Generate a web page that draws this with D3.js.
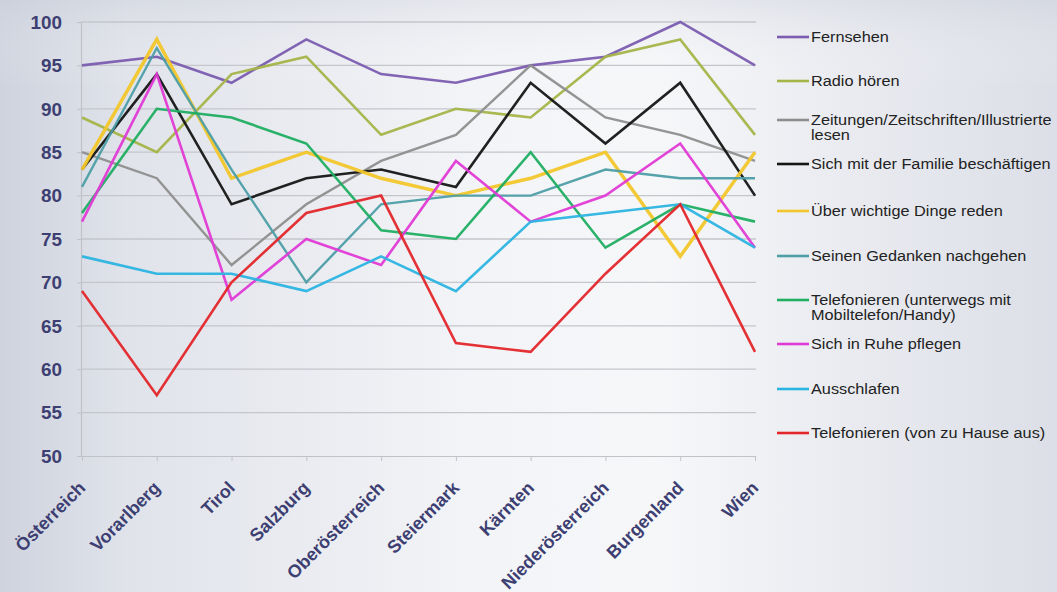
<!DOCTYPE html>
<html>
<head>
<meta charset="utf-8">
<script src="https://cdn.jsdelivr.net/npm/d3@7"></script>
<style>
html,body{margin:0;padding:0;overflow:hidden;}
svg{display:block;}
</style>
</head>
<body>
<svg id="chart" width="1057" height="592"></svg>
<script>
const categories = ["Österreich","Vorarlberg","Tirol","Salzburg","Oberösterreich","Steiermark","Kärnten","Niederösterreich","Burgenland","Wien"];
const seriesNames = ["Fernsehen","Radio hören","Zeitungen/Zeitschriften/Illustrierte|lesen","Sich mit der Familie beschäftigen","Über wichtige Dinge reden","Seinen Gedanken nachgehen","Telefonieren (unterwegs mit|Mobiltelefon/Handy)","Sich in Ruhe pflegen","Ausschlafen","Telefonieren (von zu Hause aus)"];
const fernsehen   = [95,96,93,98,94,93,95,96,100,95];
const radio       = [89,85,94,96,87,90,89,96,98,87];
const zeitungen   = [85,82,72,79,84,87,95,89,87,84];
const familie     = [83,94,79,82,83,81,93,86,93,80];
const wichtige    = [83,98,82,85,82,80,82,85,73,85];
const gedanken    = [81,97,83,70,79,80,80,83,82,82];
const unterwegs   = [78,90,89,86,76,75,85,74,79,77];
const ruhe        = [77,94,68,75,72,84,77,80,86,74];
const ausschlafen = [73,71,71,69,73,69,77,78,79,74];
const zuhause     = [69,57,70,78,80,63,62,71,79,62];
const seriesValues = [fernsehen,radio,zeitungen,familie,wichtige,gedanken,unterwegs,ruhe,ausschlafen,zuhause];
const colors = ["#7b5cb0","#a4b447","#8e8e8e","#151515","#f2c62a","#4d9ea6","#1fae62","#e03ad6","#2bb4e2","#e3262a"];
const widths = [2.6,2.6,2.4,2.6,3.4,2.4,2.6,2.6,2.6,2.6];
const yTicks = [50,55,60,65,70,75,80,85,90,95,100];
const legendY = [37,81,120,164,211,256,300,344,389,433];

const svg = d3.select("#chart");
const W = 1057, H = 592;
const defs = svg.append("defs");
const g1 = defs.append("linearGradient").attr("id","bg").attr("x1","0").attr("x2","1").attr("y1","0").attr("y2","0");
g1.append("stop").attr("offset","0").attr("stop-color","#cfd3de");
g1.append("stop").attr("offset","0.12").attr("stop-color","#e0e3ea");
g1.append("stop").attr("offset","0.45").attr("stop-color","#f3f4f7");
g1.append("stop").attr("offset","0.62").attr("stop-color","#f6f7f9");
g1.append("stop").attr("offset","0.85").attr("stop-color","#e6e8ee");
g1.append("stop").attr("offset","1").attr("stop-color","#dcdfe7");
svg.append("rect").attr("width",W).attr("height",H).attr("fill","url(#bg)");
const g2 = defs.append("linearGradient").attr("id","bgv").attr("x1","0").attr("x2","0").attr("y1","0").attr("y2","1");
g2.append("stop").attr("offset","0").attr("stop-color","#c9cdd8").attr("stop-opacity",0.35);
g2.append("stop").attr("offset","0.15").attr("stop-color","#ffffff").attr("stop-opacity",0);
g2.append("stop").attr("offset","1").attr("stop-color","#ffffff").attr("stop-opacity",0);
svg.append("rect").attr("width",W).attr("height",H).attr("fill","url(#bgv)");

const x = d3.scalePoint().domain(categories).range([82,755]).padding(0);
const y = d3.scaleLinear().domain([50,100]).range([456,22]);

// gridlines
svg.append("g").selectAll("line").data(yTicks.filter(t=>t>50)).join("line")
  .attr("x1",81).attr("x2",756).attr("y1",d=>y(d)).attr("y2",d=>y(d))
  .attr("stroke","#c4c6cc").attr("stroke-width",1.3);

// y axis
const yAxis = svg.append("g").attr("transform","translate(81,0)")
  .call(d3.axisLeft(y).tickValues(yTicks).tickSize(4).tickPadding(0));
yAxis.select(".domain").attr("stroke","#c0c2c8").attr("stroke-width",1.2);
yAxis.selectAll(".tick line").attr("stroke","#c0c2c8");
yAxis.selectAll(".tick text").attr("font-family","Liberation Sans, Arial, sans-serif")
  .attr("font-size",18).attr("font-weight","bold").attr("fill","#3d3f72")
  .attr("x",0).attr("dy","0.35em")
  .attr("transform","translate(-19,0) scale(1.05,1)");

// x axis
const xAxis = svg.append("g").attr("transform","translate(0,456)")
  .call(d3.axisBottom(x).tickSize(5).tickSizeOuter(0));
xAxis.select(".domain").attr("stroke","#c0c2c8").attr("stroke-width",1.2);
xAxis.selectAll(".tick line").attr("stroke","#c0c2c8");
xAxis.selectAll(".tick text")
  .attr("font-family","Liberation Sans, Arial, sans-serif")
  .attr("font-size",18).attr("font-weight","bold").attr("fill","#3d3f72")
  .attr("text-anchor","end").attr("dy",0).attr("y",0)
  .attr("transform","translate(4,33) rotate(-45)");

// lines
const line = d3.line().x((d,i)=>x(categories[i])).y(d=>y(d));
svg.append("g").selectAll("path").data(seriesValues).join("path")
  .attr("d",d=>line(d)).attr("fill","none")
  .attr("stroke",(d,i)=>colors[i]).attr("stroke-width",(d,i)=>widths[i])
  .attr("stroke-linejoin","miter").attr("stroke-linecap","butt").attr("opacity",0.95);

// legend
const lg = svg.append("g");
seriesNames.forEach((name,i)=>{
  const yy = legendY[i];
  lg.append("line").attr("x1",777).attr("x2",809).attr("y1",yy).attr("y2",yy)
    .attr("stroke",colors[i]).attr("stroke-width",2.6);
  const t = lg.append("text").attr("x",0).attr("y",0)
    .attr("transform",`translate(811,${yy+5}) scale(1.1,1)`)
    .attr("font-family","Liberation Sans, Arial, sans-serif").attr("font-size",14.8)
    .attr("fill","#222");
  name.split("|").forEach((part,k)=>{
    t.append("tspan").attr("x",0).attr("dy",k===0?0:15).text(part);
  });
});
</script>
</body>
</html>
